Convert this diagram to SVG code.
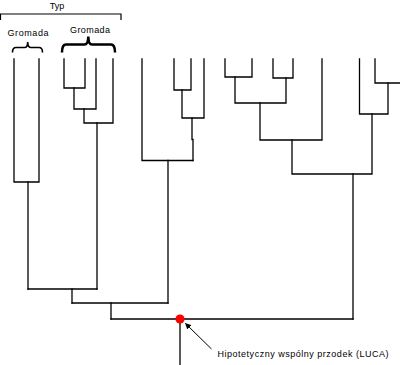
<svg xmlns="http://www.w3.org/2000/svg" width="400" height="365" viewBox="0 0 400 365">
<defs>
<style>
.br{fill:none;stroke:#000;stroke-width:1.3;stroke-linejoin:miter;stroke-linecap:square}
.lbl{font-family:"Liberation Sans",Arial,sans-serif;font-size:9px;fill:#000}
</style>
<marker id="ah" viewBox="0 0 10 10" refX="9" refY="5" markerWidth="6" markerHeight="6" orient="auto-start-reverse" markerUnits="userSpaceOnUse">
<path d="M0,0 L10,5 L0,10 z" fill="#000"/>
</marker>
</defs>
<rect width="400" height="365" fill="#fff"/>

<g id="labels">
<g id="typ">
<text class="lbl" x="57" y="8.5" text-anchor="middle">Typ</text>
<path d="M0.5,20 V14 H121 V20" fill="none" stroke="#000" stroke-width="1.2"/>
</g>
<g id="gromada1">
<text class="lbl" x="7.5" y="35.5" textLength="41" lengthAdjust="spacing">Gromada</text>
<path d="M12.5,52.5 Q12.5,47.5 16,47.5 H24.5 Q27.7,47.5 27.7,42 Q27.7,47.5 31,47.5 H39 Q42.5,47.5 42.5,52.5" fill="none" stroke="#000" stroke-width="1.6"/>
</g>
<g id="gromada2">
<text class="lbl" x="70" y="32.5" textLength="40" lengthAdjust="spacing">Gromada</text>
<path d="M62,52.5 Q62,44.5 66,44.5 H84.5 Q88.3,44.5 88.3,36.5 Q88.3,44.5 92,44.5 H111 Q115,44.5 115,52.5" fill="none" stroke="#000" stroke-width="2.6"/>
</g>
</g>

<g id="connectors">
<g id="cladeA">
<path class="br" d="M14,59 V182 H39 V59"/>
<path class="br" d="M28,182 V289"/>
</g>
<g id="cladeB">
<path class="br" d="M64,59 V88 H85 V59"/>
<path class="br" d="M74,88 V109 H96 V59"/>
<path class="br" d="M84,109 V123 H113 V59"/>
<path class="br" d="M97,123 V289"/>
</g>
<g id="cladeAB">
<path class="br" d="M28,289 H97"/>
<path class="br" d="M72,289 V303"/>
</g>
<g id="cladeC">
<path class="br" d="M174,59 V90 H191 V59"/>
<path class="br" d="M182,90 V118 H204 V59"/>
<path class="br" d="M192,118 V139.5 M193,139.5 V160.5"/>
<path class="br" d="M142,59 V160.5 H193"/>
<path class="br" d="M168,160.5 V303"/>
</g>
<g id="cladeABC">
<path class="br" d="M72,303 H168"/>
<path class="br" d="M111,303 V319"/>
</g>
<g id="cladeD">
<path class="br" d="M225,59 V77 H252 V59"/>
<path class="br" d="M273,59 V78 H293 V59"/>
<path class="br" d="M235,77 V103 H286 V78"/>
<path class="br" d="M260,103 V140 H322 V59"/>
<path class="br" d="M375,59 V83 H402"/>
<path class="br" d="M388,83 V114 H359.5 V59"/>
<path class="br" d="M292,140 V174 H372 V114"/>
<path class="br" d="M353,174 V319"/>
</g>
<g id="root">
<path class="br" d="M111,319 H353"/>
<path class="br" d="M180,319 V366"/>
</g>
<line id="luca-arrow" x1="211.5" y1="349" x2="185.5" y2="323.5" stroke="#000" stroke-width="1" marker-end="url(#ah)"/>
</g>

<g id="luca">
<circle cx="180" cy="319" r="4.6" fill="#f00"/>
<text class="lbl" x="217.5" y="357" textLength="171" lengthAdjust="spacing">Hipotetyczny wspólny przodek (LUCA)</text>
</g>
</svg>
